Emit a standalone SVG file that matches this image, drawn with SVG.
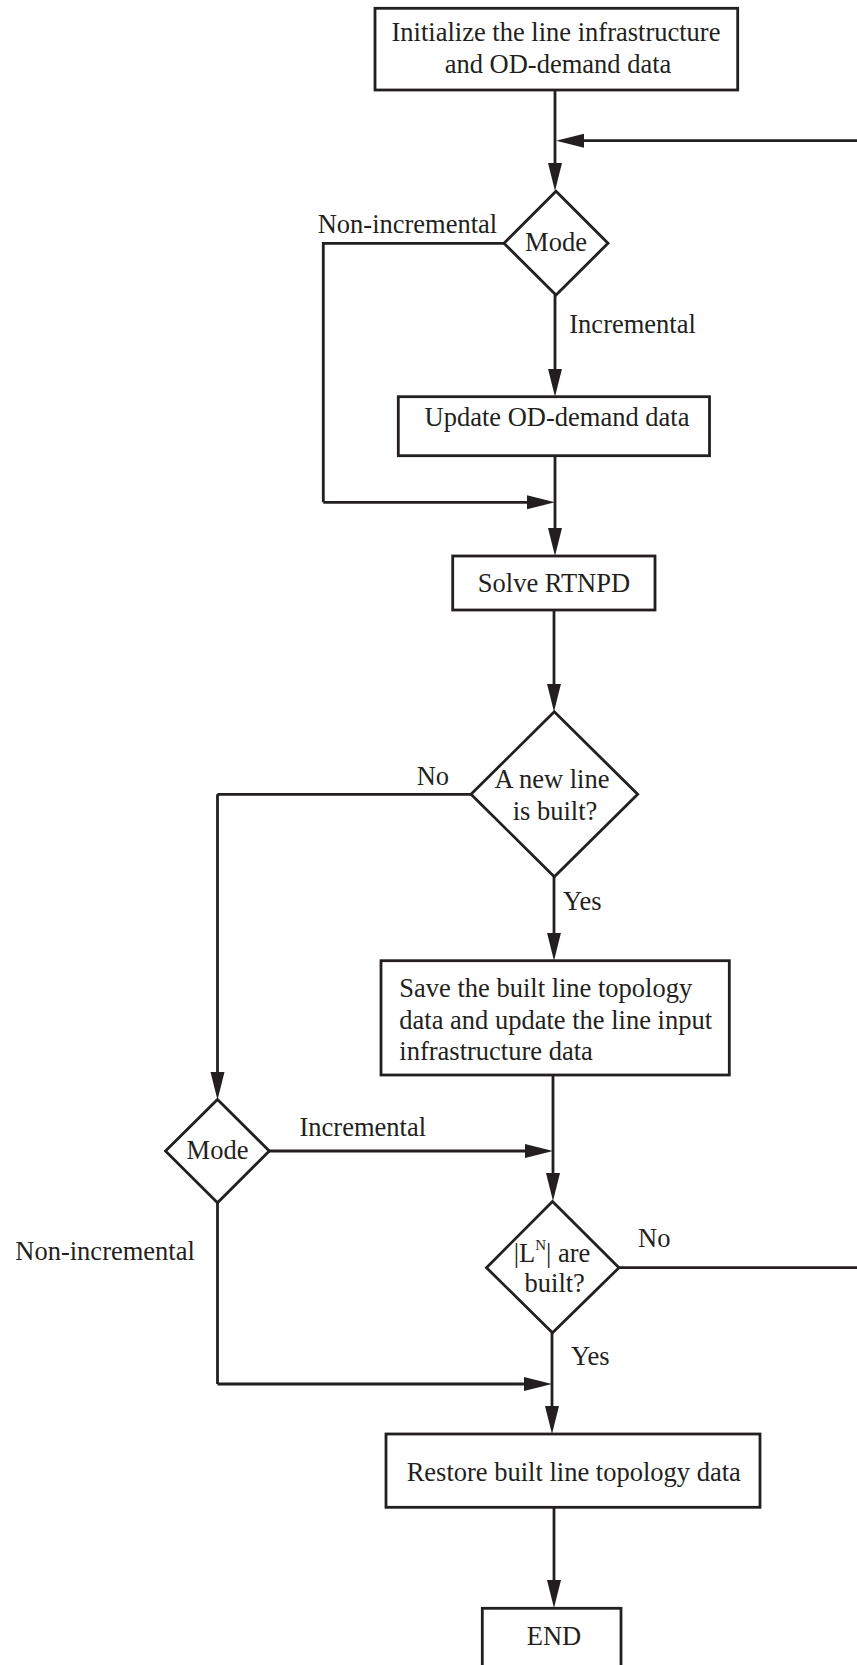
<svg xmlns="http://www.w3.org/2000/svg" width="857" height="1665" viewBox="0 0 857 1665">
  <defs>
    <style>
      .box { fill: #ffffff; stroke: #231f20; stroke-width: 2.8; }
      .wire { fill: none; stroke: #231f20; stroke-width: 2.8; }
      .arrow { marker-end: url(#head); }
      text { font-family: "Liberation Serif", "Times New Roman", serif; font-size: 26.5px; fill: #231f20; }
      .mid { text-anchor: middle; }
    </style>
    <marker id="head" markerUnits="userSpaceOnUse" markerWidth="28" markerHeight="16" refX="18" refY="8" orient="auto">
      <path d="M0,1 L28,8 L0,15 Z" fill="#231f20"/>
    </marker>
  </defs>

  <rect width="857" height="1665" fill="#ffffff"/>

  <!-- connectors -->
  <g id="connectors">
    <path class="wire arrow" d="M555,90 L555,181"/>
    <path class="wire arrow" d="M857,140.7 L566,140.7"/>
    <!-- first mode switch -->
    <path class="wire" d="M504,243.3 L323.3,243.3 L323.3,502.3"/>
    <path class="wire arrow" d="M323.3,502.3 L545,502.3"/>
    <path class="wire arrow" d="M555,295 L555,386.7"/>
    <path class="wire arrow" d="M555,455.7 L555,546"/>
    <path class="wire arrow" d="M554,610 L554,701.7"/>
    <!-- new line decision -->
    <path class="wire" d="M471,794.3 L217.5,794.3"/>
    <path class="wire arrow" d="M217.5,794.3 L217.5,1090"/>
    <path class="wire arrow" d="M554,876.7 L554,950.7"/>
    <path class="wire arrow" d="M553,1075 L553,1191"/>
    <!-- second mode switch -->
    <path class="wire arrow" d="M269,1151 L543,1151"/>
    <path class="wire" d="M217.5,1202.7 L217.5,1384"/>
    <path class="wire arrow" d="M217.5,1384 L542,1384"/>
    <!-- count decision -->
    <path class="wire" d="M619,1267.7 L857,1267.7"/>
    <path class="wire arrow" d="M552,1332.7 L552,1424"/>
    <path class="wire arrow" d="M554,1507.3 L554,1598"/>
  </g>

  <g id="init">
    <rect class="box" x="375" y="8.3" width="362.7" height="81.7"/>
    <text class="mid" x="556" y="40.7">Initialize the line infrastructure</text>
    <text class="mid" x="558" y="72.7">and OD-demand data</text>
  </g>

  <g id="mode1">
    <polygon class="box" points="556,191.3 608,243.3 556,295 504,243.3"/>
    <text class="mid" x="556" y="250.7">Mode</text>
  </g>

  <g id="update">
    <rect class="box" x="398.3" y="396.7" width="311.2" height="59"/>
    <text class="mid" x="557" y="426">Update OD-demand data</text>
  </g>

  <g id="solve">
    <rect class="box" x="452.7" y="556" width="202.3" height="54"/>
    <text class="mid" x="554" y="591.7">Solve RTNPD</text>
  </g>

  <g id="newline">
    <polygon class="box" points="554.3,711.7 637.7,794.3 554.3,876.7 471,794.3"/>
    <text class="mid" x="552" y="788.3">A new line</text>
    <text class="mid" x="555" y="820">is built?</text>
  </g>

  <g id="save">
    <rect class="box" x="381" y="960.7" width="348.3" height="114.3"/>
    <text x="399.3" y="997">Save the built line topology</text>
    <text x="399.3" y="1028.7">data and update the line input</text>
    <text x="399.3" y="1060.4">infrastructure data</text>
  </g>

  <g id="mode2">
    <polygon class="box" points="217.5,1099.5 269.3,1151 217.5,1202.7 165.5,1151"/>
    <text class="mid" x="217.5" y="1158.8">Mode</text>
  </g>

  <g id="count">
    <polygon class="box" points="552.5,1201.5 619,1267.7 552.5,1332.7 486.5,1267.7"/>
    <text class="mid" x="552" y="1261.7">|L<tspan font-size="15" dy="-12">N</tspan><tspan dy="12">| are</tspan></text>
    <text class="mid" x="554.7" y="1291.7">built?</text>
  </g>

  <g id="restore">
    <rect class="box" x="386" y="1434" width="374" height="73.3"/>
    <text x="406.7" y="1480.7">Restore built line topology data</text>
  </g>

  <g id="end">
    <rect class="box" x="482.3" y="1608.3" width="138.7" height="70"/>
    <text class="mid" x="554" y="1645">END</text>
  </g>

  <!-- branch labels -->
  <g id="labels">
    <text x="317.7" y="233.3">Non-incremental</text>
    <text x="569.3" y="333">Incremental</text>
    <text x="416.7" y="785">No</text>
    <text x="563" y="910">Yes</text>
    <text x="299.5" y="1136">Incremental</text>
    <text x="15.3" y="1260">Non-incremental</text>
    <text x="638" y="1246.7">No</text>
    <text x="571" y="1365">Yes</text>
  </g>
</svg>
